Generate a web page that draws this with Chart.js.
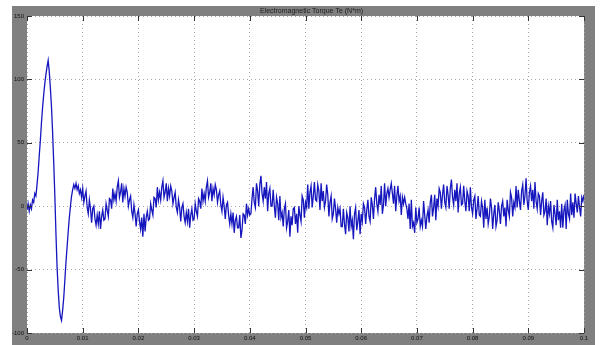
<!DOCTYPE html>
<html>
<head>
<meta charset="utf-8">
<script src="https://cdn.jsdelivr.net/npm/chart.js@4.4.0/dist/chart.umd.min.js"></script>
<style>
  html, body { margin: 0; padding: 0; background: #fff; }
  #wrap { width: 600px; height: 345px; }
</style>
</head>
<body>
<div id="wrap"><canvas id="torque"></canvas></div>
<script>
// Electromagnetic torque, sampled every 0.2 ms from 0 to 0.1 s
const chartTitle = 'Electromagnetic Torque Te (N*m)';
const sampleStep = 0.0002;
const xTickLabels = ['0', '0.01', '0.02', '0.03', '0.04', '0.05', '0.06', '0.07', '0.08', '0.09', '0.1'];
const yTickLabels = ['-100', '-50', '0', '50', '100', '150'];

const torque = [
  -3, 2, -4, 1, -2, 5, 3, 10, 8, 17,
  27, 40, 52, 66, 78, 88, 97, 104, 110, 115,
  106, 93, 78, 58, 34, 8, -22, -48, -66, -80,
  -87, -90, -82, -72, -58, -44, -32, -20, -9, 0,
  8, 13, 17, 14, 18, 13, 16, 10, 13, 7,
  14, 3, 8, 12, -1, -6, 5, -2, -13, -2,
  0, -10, -15, -7, -14, -4, -18, -8, -3, -11,
  -10, 2, -3, -8, 6, 5, -2, 14, 5, 10,
  4, 15, 20, 7, 11, 18, 3, 14, 8, 15,
  11, 0, 5, 8, -4, -9, 1, -6, -16, -6,
  -3, -12, -18, -9, -24, -6, -20, -9, -4, -11,
  -10, 2, -3, -7, 7, 6, -1, 15, 5, 11,
  5, 15, 20, 7, 11, 18, 4, 14, 8, 16,
  12, 2, 7, 11, -1, -5, 5, -1, -12, -1,
  2, -8, -13, -5, -12, -2, -17, -7, -2, -11,
  -10, 2, -4, -8, 6, 4, -2, 14, 4, 10,
  4, 15, 20, 7, 11, 18, 4, 14, 9, 17,
  13, 3, 9, 12, 1, -4, 7, 0, -10, 1,
  3, -7, -14, -6, -14, -5, -21, -11, -8, -17,
  -17, -7, -25, -19, -6, -7, -14, 2, -7, -2,
  -7, -6, 6, 15, 3, -1, 18, 12, 0, 17,
  24, 10, 4, 15, 6, 19, -4, 10, 14, 0,
  0, 13, 0, -9, 7, 2, -11, 8, -9, -5,
  -16, -2, 2, -17, -12, -3, -24, -8, -15, -2,
  -1, -14, -6, -21, 0, -7, -12, 8, 5, -9,
  3, -1, 17, -2, 11, 16, -1, 8, 19, 5,
  4, 17, 12, -3, 18, 4, 12, -1, 4, 17,
  9, -8, 3, 8, -10, -6, 6, -2, -13, -1,
  -6, -2, -16, -16, -2, -14, -22, -5, -9, -20,
  0, -16, -11, -26, -6, -1, -19, -12, -3, -22,
  -6, -12, 2, -1, -14, -3, 5, -8, -12, 7,
  1, -10, 6, 15, 2, -4, 9, 1, 16, -6,
  1, 18, 0, 10, 14, 7, 13, 18, 10, 2,
  16, -4, 8, 16, 4, 8, -7, 7, 2, 7,
  2, -2, -10, 2, -18, 5, -16, -13, -21, -1,
  -13, -10, -1, -16, -11, -16, 4, -7, -18, -8,
  -3, -13, 3, 9, -8, -1, 9, -11, 6, 0,
  14, 11, -2, 9, 17, 3, -1, 16, 9, -2,
  14, 21, 7, 1, 13, 4, 18, -5, 10, 15,
  1, 2, 16, 4, -4, 12, 8, -4, 15, -1,
  -6, 5, 8, -10, -2, 8, -7, -8, 4, -1,
  -17, 5, -10, -1, -14, -8, 6, -1, -18, -6,
  1, -16, -11, 3, -4, -14, 0, 4, -8, -1,
  -16, 5, -3, -8, 11, 7, -8, 3, -1, 16,
  -1, 13, 4, -3, 12, 17, 1, 8, 22, 4,
  -3, 11, 16, 4, 13, -2, 19, 4, -2, 10,
  8, -7, 4, 11, -7, -4, 6, -15, 0, -6,
  4, -12, -17, 1, -6, -15, 5, -11, -4, -17,
  2, -17, -3, 1, -18, 5, -6, -10, 10, -7,
  3, -9, 10, 2, -5, 8, -1, -8, 7, 4,
  9
];

const points = torque.map((v, i) => ({ x: i * sampleStep, y: v }));

// gray figure frame, white axes box, title and inner tick marks like matlab
const matlabFrame = {
  id: 'matlabFrame',
  beforeDraw(chart) {
    const { ctx, chartArea: a } = chart;
    ctx.save();
    ctx.fillStyle = '#fff';
    ctx.fillRect(0, 0, chart.width, chart.height);
    ctx.fillStyle = '#808080';
    ctx.fillRect(12, 6, 583, chart.height - 6);
    ctx.fillStyle = '#fff';
    ctx.fillRect(a.left, a.top, a.right - a.left, a.bottom - a.top);
    ctx.fillStyle = '#1a1a1a';
    ctx.font = '7px "Liberation Sans", Arial, sans-serif';
    ctx.textAlign = 'center';
    ctx.textBaseline = 'middle';
    ctx.fillText(chartTitle, (a.left + a.right) / 2 + 6, (6 + a.top) / 2 + 0.5);
    ctx.restore();
  },
  afterDraw(chart) {
    const { ctx, chartArea: a, scales } = chart;
    ctx.save();
    ctx.strokeStyle = '#333';
    ctx.lineWidth = 1;
    ctx.beginPath();
    scales.x.ticks.forEach(t => {
      const px = Math.round(scales.x.getPixelForValue(t.value)) + 0.5;
      ctx.moveTo(px, a.top); ctx.lineTo(px, a.top + 5);
      ctx.moveTo(px, a.bottom); ctx.lineTo(px, a.bottom - 5);
    });
    scales.y.ticks.forEach(t => {
      const py = Math.round(scales.y.getPixelForValue(t.value)) + 0.5;
      ctx.moveTo(a.left, py); ctx.lineTo(a.left + 5, py);
      ctx.moveTo(a.right, py); ctx.lineTo(a.right - 5, py);
    });
    ctx.stroke();
    ctx.restore();
  }
};

const tickFont = { size: 6, family: '"Liberation Sans", Arial, sans-serif' };

new Chart(document.getElementById('torque'), {
  type: 'line',
  data: {
    datasets: [{
      label: chartTitle,
      data: points,
      borderColor: 'rgb(22,22,190)',
      borderWidth: 1.3,
      pointRadius: 0,
      tension: 0,
      fill: false
    }]
  },
  options: {
    responsive: true,
    maintainAspectRatio: false,
    animation: false,
    layout: { padding: { left: 0, right: 16, top: 16, bottom: 0 } },
    plugins: {
      legend: { display: false },
      tooltip: { enabled: false }
    },
    scales: {
      x: {
        type: 'linear',
        min: 0,
        max: 0.1,
        afterFit: s => { s.height = 12; },
        ticks: {
          stepSize: 0.01,
          autoSkip: false,
          maxRotation: 0,
          padding: 2,
          color: '#111',
          font: tickFont,
          callback: (v, i) => xTickLabels[i]
        },
        grid: { color: '#a8a8a8', drawTicks: false },
        border: { display: false, dash: [1, 3] }
      },
      y: {
        min: -100,
        max: 150,
        afterFit: s => { s.width = 27; },
        ticks: {
          stepSize: 50,
          padding: 3,
          color: '#111',
          font: tickFont,
          callback: (v, i) => yTickLabels[i]
        },
        grid: { color: '#a8a8a8', drawTicks: false },
        border: { display: false, dash: [1, 3] }
      }
    }
  },
  plugins: [matlabFrame]
});
</script>
</body>
</html>
